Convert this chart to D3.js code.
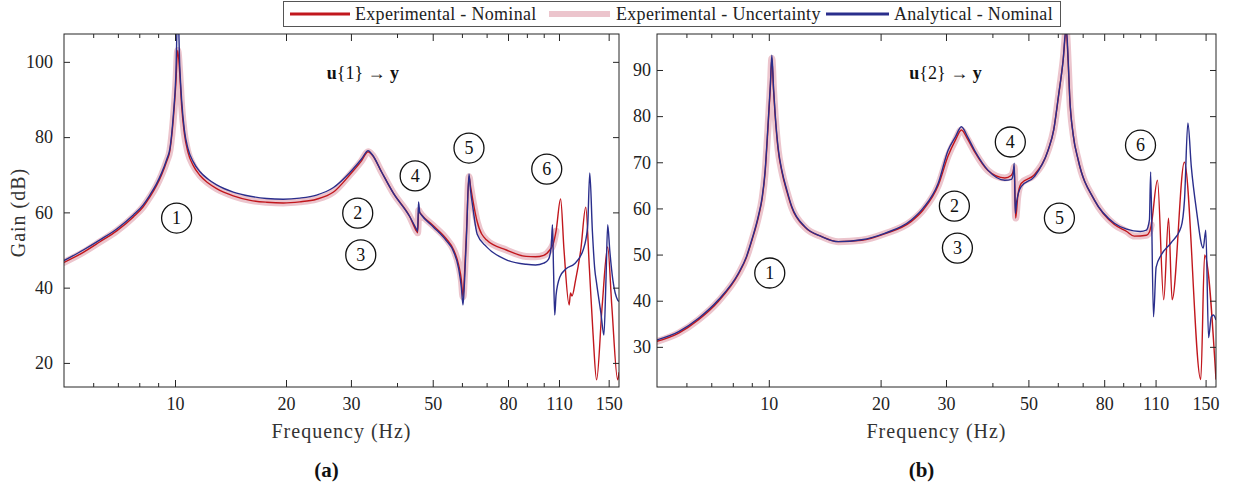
<!doctype html>
<html>
<head>
<meta charset="utf-8">
<title>Gain vs Frequency</title>
<script src="https://d3js.org/d3.v7.min.js"></script>
<style>
  body { margin: 0; background: #fff; }
  svg { font-family: "Liberation Serif", "Times New Roman", serif; }
</style>
</head>
<body>
<script>
// ---- data ----
var majorTicks = [10, 20, 30, 50, 80, 110, 150];
var minorTicks = [6, 7, 8, 9, 40, 60, 70, 90, 100];

// panel (a): u{1} -> y
var aAnaFreq = [5, 5.64, 6.26, 6.95, 7.71, 8.2, 8.55, 8.9, 9.2, 9.49, 9.69, 9.9, 10.05, 10.18, 10.3, 10.42, 10.6, 10.84, 11.2, 11.69, 12.3, 12.97, 14.39, 16, 17.72, 19.66, 21.8, 24.2, 26.9, 29.8, 32.05, 33.4, 34.3, 36.3, 39.1, 43.3, 45.2, 45.5, 45.75, 46.1, 46.6, 50.1, 54.4, 57, 58.8, 59.8, 60.4, 61, 61.8, 62.7, 63.3, 64.3, 66, 69.9, 79.2, 89.6, 95, 100, 103, 104.8, 105.6, 106.3, 107.1, 108, 110.6, 115, 121, 127.9, 131.5, 133.3, 135.5, 137.5, 139.1, 143, 145.6, 147.5, 149.1, 151, 154, 158.7, 160];
var aAnaGain = [47.2, 50.0, 52.7, 55.6, 59.3, 62.0, 64.6, 67.5, 70.5, 74.0, 77.0, 86, 96, 115, 99, 90, 82, 77, 73.5, 70.8, 68.8, 67.3, 65.4, 64.3, 63.7, 63.5, 63.8, 64.6, 66.6, 70.6, 74.2, 76.4, 75.3, 70.8, 65.1, 58.9, 55.5, 55.0, 62.8, 60.0, 59.3, 56.2, 52.5, 49.5, 45, 40, 35.4, 42, 55, 70.2, 66, 61, 54.2, 50.9, 47.4, 46.2, 46.0, 46.5, 47.5, 51, 56.7, 45, 32.7, 38, 42.8, 45, 46.3, 50.0, 56, 70.5, 55, 45, 41.2, 33, 27.4, 42, 56.7, 50, 42, 36.7, 36.3];
var aExpFreq = [5, 5.64, 6.26, 6.95, 7.71, 8.2, 8.55, 8.9, 9.2, 9.49, 9.69, 9.9, 10.05, 10.17, 10.3, 10.42, 10.6, 10.84, 11.2, 11.69, 12.3, 12.97, 14.39, 16, 17.72, 19.66, 21.8, 24.2, 26.9, 29.8, 32.05, 33.4, 34.3, 36.3, 39.1, 43.3, 45.2, 45.5, 45.8, 46.1, 46.6, 50.1, 54.4, 57, 58.8, 59.8, 60.4, 61, 61.8, 62.7, 63.3, 64.3, 66, 69.9, 79.2, 89.6, 95, 100, 103.9, 106, 108, 111.1, 113.5, 117.2, 118.2, 119.3, 122, 126, 130, 133, 136, 139.1, 144, 149.1, 153, 158.7, 160];
var aExpGain = [46.7, 49.4, 52.2, 55.1, 58.8, 61.5, 64.1, 67.0, 70.0, 73.5, 76.5, 85, 94, 103, 97, 88.5, 81, 76, 72.5, 69.8, 67.8, 66.3, 64.4, 63.2, 62.7, 62.5, 62.8, 63.5, 65.4, 70.0, 73.7, 76.1, 75.2, 70.8, 65.1, 58.9, 55.0, 54.6, 60.5, 60.0, 59.4, 56.5, 53.0, 50.0, 46, 42, 37.6, 44, 56, 69.5, 67, 63, 57.5, 52.7, 50.0, 48.3, 48.2, 48.6, 50.0, 51.5, 55, 63.6, 50, 35.4, 38.6, 37.8, 42, 50, 61.4, 45, 28, 15.5, 35, 50.8, 35, 15.5, 17.5];

// panel (b): u{2} -> y
var bAnaFreq = [5, 5.72, 6.47, 7.32, 8.29, 8.7, 9.0, 9.38, 9.6, 9.77, 9.95, 10.1, 10.19, 10.3, 10.4, 10.6, 10.84, 11.2, 11.53, 12.52, 13.88, 15.38, 17.77, 20.5, 24.2, 26, 28.6, 30.4, 31.8, 33.0, 34.3, 35.8, 38.9, 43.2, 45.0, 45.5, 45.8, 46.1, 46.5, 47.8, 51.9, 56.5, 58.5, 60.2, 62.0, 63.2, 64.0, 64.6, 66, 68.1, 75.3, 85.2, 92, 100, 103.9, 105.9, 106.7, 108.6, 110.4, 113.9, 121, 128.9, 131.6, 134.4, 137.3, 141.7, 147.8, 150.2, 152.8, 155.4, 157.5, 160];
var bAnaGain = [31.5, 33.3, 36.2, 40.2, 46.0, 49.5, 53.2, 58.5, 62.5, 68, 78, 87, 93.2, 86, 80.6, 73, 68.3, 63.8, 60.4, 56.0, 53.9, 52.8, 53.2, 54.6, 57.5, 60.0, 65.5, 72.6, 75.5, 77.7, 75.5, 72.6, 68.3, 66.1, 66.3, 67.5, 69.8, 58.9, 61.5, 64.7, 66.9, 72.6, 77, 84.2, 92, 99.5, 92, 84.2, 76, 70.5, 61.8, 56.8, 55.5, 55.0, 55.3, 57.5, 67.9, 36.5, 47.3, 49.9, 52.5, 56.0, 61.8, 78.5, 69.0, 59.7, 51.4, 55.3, 32.0, 36.5, 36.9, 35.8];
var bExpFreq = [5, 5.72, 6.47, 7.32, 8.29, 8.7, 9.0, 9.38, 9.6, 9.77, 9.95, 10.1, 10.19, 10.3, 10.4, 10.6, 10.84, 11.2, 11.53, 12.52, 13.88, 15.38, 17.77, 20.5, 24.2, 26, 28.6, 30.4, 31.8, 33.0, 34.3, 35.8, 38.9, 43.2, 45.0, 45.5, 45.8, 46.2, 46.8, 47.8, 51.9, 56.5, 58.5, 60.2, 62.0, 63.2, 64.0, 64.6, 66, 68.1, 75.3, 85.2, 92, 96.4, 103.9, 105.9, 107.1, 111.3, 115.7, 119.2, 121.9, 131.5, 145.6, 149.1, 160];
var bExpGain = [31.2, 33.0, 35.9, 39.9, 45.8, 49.3, 53.0, 58.2, 62.2, 67.6, 77.5, 86.5, 92.5, 85.5, 80.2, 72.6, 68.0, 63.5, 60.2, 55.9, 53.9, 52.8, 53.1, 54.5, 57.2, 59.6, 65.0, 71.4, 74.8, 77.0, 75.0, 72.3, 68.2, 66.6, 67.2, 68.0, 69.0, 57.9, 62.5, 65.4, 67.3, 72.6, 77, 84.0, 92, 98.5, 91.5, 84.0, 76, 70.5, 61.8, 56.5, 55, 54.0, 54.2, 54.9, 56.4, 66.1, 40.2, 57.9, 40.2, 70.0, 22.9, 49.9, 22.9];

// mode markers (freq, gain) per panel
var aModeLabels = ["1", "2", "3", "4", "5", "6"];
var aModeFreq = [10.1, 31.3, 31.9, 44.8, 62.7, 101.9];
var aModeGain = [58.5, 59.8, 48.7, 69.7, 77.1, 71.5];
var bModeLabels = ["1", "2", "3", "4", "5", "6"];
var bModeFreq = [10.06, 31.6, 32.2, 44.7, 60.6, 100.2];
var bModeGain = [46.0, 60.5, 51.4, 74.4, 57.9, 73.7];

var legendNames = ["Experimental - Nominal", "Experimental - Uncertainty", "Analytical - Nominal"];

// ---- drawing ----
var width = 1248, height = 490;
var red = "#c1171d", blue = "#2a2e8c", pink = "#ecc5cd", axisColor = "#262626";
var plotTop = 34, plotBottom = 387;

var svg = d3.select("body").append("svg")
    .attr("width", width)
    .attr("height", height);

var panels = [
    { key: "a", left: 64, right: 619, yDom: [13.6, 107.4], yTicks: [20, 40, 60, 80, 100], yPad: 11,
      ana: [aAnaFreq, aAnaGain], exp: [aExpFreq, aExpGain],
      modes: [aModeLabels, aModeFreq, aModeGain], input: "1", titleAt: [25.8, 95.4], ylabel: true, tag: "(a)" },
    { key: "b", left: 657, right: 1216, yDom: [21.3, 97.8], yTicks: [30, 40, 50, 60, 70, 80, 90], yPad: 6,
      ana: [bAnaFreq, bAnaGain], exp: [bExpFreq, bExpGain],
      modes: [bModeLabels, bModeFreq, bModeGain], input: "2", titleAt: [23.9, 88.0], ylabel: false, tag: "(b)" }
];

panels.forEach(function (p) {
    var x = d3.scaleLog().domain([5, 160]).range([p.left, p.right]);
    var y = d3.scaleLinear().domain(p.yDom).range([plotBottom, plotTop]);

    var g = svg.append("g");

    g.append("clipPath").attr("id", "clip-" + p.key)
        .append("rect")
        .attr("x", p.left).attr("y", plotTop)
        .attr("width", p.right - p.left).attr("height", plotBottom - plotTop);

    var line = d3.line()
        .curve(d3.curveMonotoneX)
        .x(function (d) { return x(d[0]); })
        .y(function (d) { return y(d[1]); });

    var expPts = d3.zip(p.exp[0], p.exp[1]);
    var anaPts = d3.zip(p.ana[0], p.ana[1]);

    var curves = g.append("g").attr("clip-path", "url(#clip-" + p.key + ")");

    // uncertainty band around the experimental curve
    curves.append("path")
        .datum(expPts.filter(function (d) { return d[0] <= 108; }))
        .attr("d", line)
        .attr("fill", "none")
        .attr("stroke", pink)
        .attr("stroke-width", 7)
        .attr("stroke-linejoin", "round")
        .attr("stroke-linecap", "round");

    curves.append("path")
        .datum(expPts)
        .attr("d", line)
        .attr("fill", "none")
        .attr("stroke", red)
        .attr("stroke-width", 1.4)
        .attr("stroke-linejoin", "round");

    curves.append("path")
        .datum(anaPts)
        .attr("d", line)
        .attr("fill", "none")
        .attr("stroke", blue)
        .attr("stroke-width", 1.4)
        .attr("stroke-linejoin", "round");

    // axes (ticks pointing inward, box on)
    function styleAxis(sel) {
        sel.select(".domain").remove();
        sel.selectAll("line").attr("stroke", axisColor);
        sel.selectAll("text").attr("fill", "#222").style("font-size", "18px")
            .style("font-family", "'Liberation Serif', serif");
    }

    g.append("g").attr("transform", "translate(0," + plotBottom + ")")
        .call(d3.axisBottom(x).tickValues(majorTicks).tickFormat(d3.format("d"))
            .tickSizeInner(-7).tickSizeOuter(0).tickPadding(10))
        .call(styleAxis);
    g.append("g").attr("transform", "translate(0," + plotBottom + ")")
        .call(d3.axisBottom(x).tickValues(minorTicks).tickFormat("")
            .tickSizeInner(-4).tickSizeOuter(0))
        .call(styleAxis);
    g.append("g").attr("transform", "translate(0," + plotTop + ")")
        .call(d3.axisTop(x).tickValues(majorTicks).tickFormat("")
            .tickSizeInner(-7).tickSizeOuter(0))
        .call(styleAxis);
    g.append("g").attr("transform", "translate(0," + plotTop + ")")
        .call(d3.axisTop(x).tickValues(minorTicks).tickFormat("")
            .tickSizeInner(-4).tickSizeOuter(0))
        .call(styleAxis);
    g.append("g").attr("transform", "translate(" + p.left + ",0)")
        .call(d3.axisLeft(y).tickValues(p.yTicks)
            .tickSizeInner(-6).tickSizeOuter(0).tickPadding(p.yPad))
        .call(styleAxis);
    g.append("g").attr("transform", "translate(" + p.right + ",0)")
        .call(d3.axisRight(y).tickValues(p.yTicks).tickFormat("")
            .tickSizeInner(-6).tickSizeOuter(0))
        .call(styleAxis);

    g.append("rect")
        .attr("x", p.left).attr("y", plotTop)
        .attr("width", p.right - p.left).attr("height", plotBottom - plotTop)
        .attr("fill", "none")
        .attr("stroke", axisColor)
        .attr("stroke-width", 1);

    // mode markers
    var modes = d3.zip(p.modes[0], p.modes[1], p.modes[2]);
    var mg = g.selectAll(".mode").data(modes).enter().append("g")
        .attr("class", "mode")
        .attr("transform", function (d) { return "translate(" + x(d[1]) + "," + y(d[2]) + ")"; });
    mg.append("circle").attr("r", 15).attr("fill", "none")
        .attr("stroke", "#111").attr("stroke-width", 1.3);
    mg.append("text").attr("text-anchor", "middle").attr("dy", "0.34em")
        .style("font-size", "18px").attr("fill", "#111")
        .text(function (d) { return d[0]; });

    // input -> output title
    var t = g.append("text")
        .attr("x", x(p.titleAt[0])).attr("y", y(p.titleAt[1]))
        .style("font-size", "18px").attr("fill", "#111");
    t.append("tspan").attr("font-weight", "bold").text("u");
    t.append("tspan").text("{" + p.input + "} ");
    t.append("tspan").attr("font-weight", "bold").text("\u2192 y");

    // axis labels
    var cx = (p.left + p.right) / 2;
    g.append("text").attr("x", cx).attr("y", 438)
        .attr("text-anchor", "middle")
        .style("font-size", "20px").style("letter-spacing", "1px").attr("fill", "#333")
        .text("Frequency (Hz)");
    g.append("text").attr("x", cx - 15).attr("y", 477)
        .attr("text-anchor", "middle")
        .style("font-size", "21px").attr("font-weight", "bold").attr("fill", "#111")
        .text(p.tag);
    if (p.ylabel) {
        g.append("text")
            .attr("transform", "translate(25," + ((plotTop + plotBottom) / 2 + 2) + ") rotate(-90)")
            .attr("text-anchor", "middle")
            .style("font-size", "20px").style("letter-spacing", "1px").attr("fill", "#333")
            .text("Gain (dB)");
    }
});

// legend
var legend = svg.append("g");
legend.append("rect")
    .attr("x", 283.5).attr("y", 1.5).attr("width", 777).attr("height", 25)
    .attr("fill", "#fff").attr("stroke", "#555").attr("stroke-width", 1);
var legendItems = [
    { name: legendNames[0], color: red, w: 3, x0: 290, x1: 350, tx: 355 },
    { name: legendNames[1], color: pink, w: 6, x0: 549, x1: 610, tx: 616 },
    { name: legendNames[2], color: blue, w: 3, x0: 826, x1: 889, tx: 894 }
];
legendItems.forEach(function (d) {
    legend.append("line").attr("x1", d.x0).attr("x2", d.x1).attr("y1", 14).attr("y2", 14)
        .attr("stroke", d.color).attr("stroke-width", d.w);
    legend.append("text").attr("x", d.tx).attr("y", 20)
        .style("font-size", "18px").style("letter-spacing", "0.3px").attr("fill", "#222")
        .text(d.name);
});
</script>
</body>
</html>
